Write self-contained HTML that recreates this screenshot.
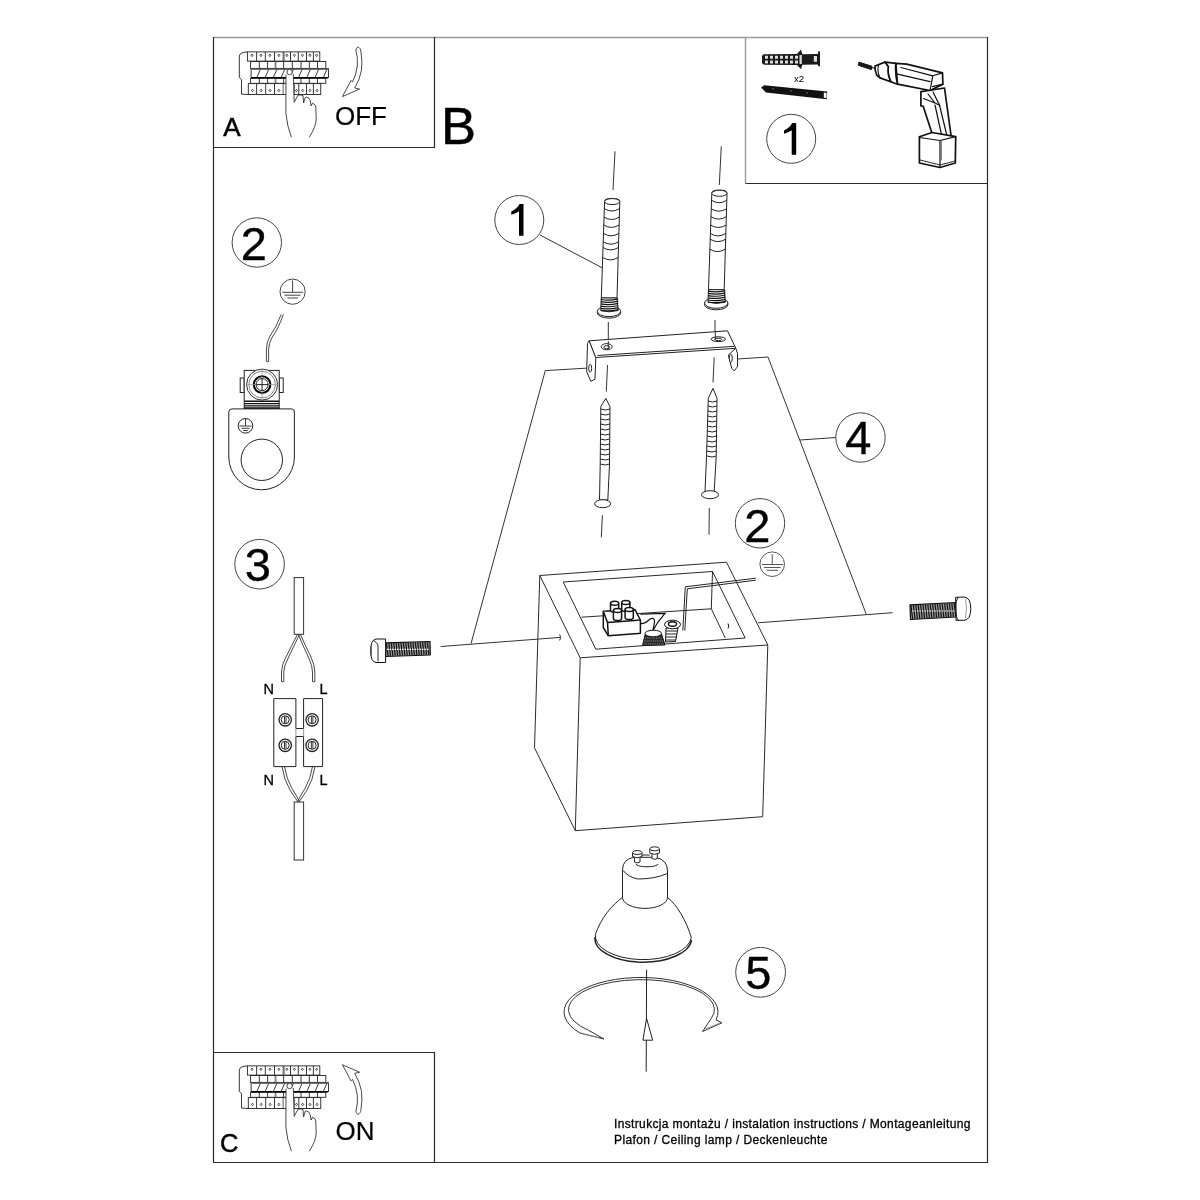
<!DOCTYPE html>
<html><head><meta charset="utf-8">
<style>
html,body{margin:0;padding:0;background:#fff;width:1200px;height:1200px;overflow:hidden}
svg{position:absolute;left:0;top:0;will-change:transform}
text{font-family:"Liberation Sans",sans-serif;fill:#000}
</style></head><body>
<svg width="1200" height="1200" viewBox="0 0 1200 1200">
<g fill="none" stroke="#2a2a2a" stroke-width="1.2">
<path d="M213.5 37.5 H987.5" stroke="#9a9a9a" stroke-width="1.4"/>
<path d="M745.5 37.5 V183.5" stroke="#9a9a9a" stroke-width="1.4"/>
<path d="M213.5 37 V1162.5 H987.5 V37"/>
<path d="M434.5 37 V147.5 H213.5"/>
<path d="M745.5 183.5 H987.5"/>
<path d="M213.5 1052.5 H434.5 V1162.5"/>
</g>
<g>
<text x="223.3" y="135.8" font-size="26" stroke="#000" stroke-width="0.5">A</text>
<text x="335" y="124.8" font-size="26" stroke="#000" stroke-width="0.2">OFF</text>
<text x="441" y="143.7" font-size="52.5" stroke="#000" stroke-width="0.5">B</text>
<text x="220" y="1151.7" font-size="25.5" stroke="#000" stroke-width="0.5">C</text>
<text x="335.5" y="1139.7" font-size="26" stroke="#000" stroke-width="0.2">ON</text>
<text x="614" y="1128" font-size="12" textLength="356.5" lengthAdjust="spacing" stroke="#000" stroke-width="0.3">Instrukcja montażu / instalation instructions / Montageanleitung</text>
<text x="614" y="1143.5" font-size="12" textLength="213.5" lengthAdjust="spacing" stroke="#000" stroke-width="0.3">Plafon / Ceiling lamp / Deckenleuchte</text>
</g>
<!-- ===== circles with numbers ===== -->
<g fill="none" stroke="#444" stroke-width="1">
<circle cx="791.2" cy="138.8" r="24.5"/>
<circle cx="519.3" cy="220" r="24.5"/>
<circle cx="256.8" cy="242.5" r="24.7"/>
<circle cx="860.5" cy="437.5" r="24.7"/>
<circle cx="760" cy="523.3" r="24.7"/>
<circle cx="259.6" cy="564.2" r="24.8"/>
<circle cx="760.6" cy="972.3" r="24.9"/>
</g>
<g font-size="47" text-anchor="middle" stroke="#000" stroke-width="0.35">
<text x="253.8" y="259.5">2</text>
<text x="858.3" y="454.3">4</text>
<text x="757.3" y="541.8">2</text>
<text x="257.8" y="580.8">3</text>
<text x="758.2" y="989">5</text>
</g>
<path d="M519 235.8 V211.2 Q516 213.6 511.3 214.8 V211.4 Q517 209 519.6 204 H523.5 V235.8 Z" fill="#000"/>
<path transform="translate(272.7 -81)" d="M519 235.8 V211.2 Q516 213.6 511.3 214.8 V211.4 Q517 209 519.6 204 H523.5 V235.8 Z" fill="#000"/>
<!-- ===== leader/construction lines ===== -->
<g fill="none" stroke="#333" stroke-width="1">
<path d="M540 235 L602.5 268"/>
<path d="M800 440 L835.8 437.5"/>
<path d="M589 368 L545.3 370.6 L471 643.7"/>
<path d="M737.5 359 L768 357 L866.3 614.4"/>
<path d="M440.75 646.5 L560.4 637.4"/>
<path d="M758 622.8 L892.6 612.7"/>
<path d="M559.7 634.5 Q561.5 637.5 559.7 640.5"/>
<!-- dashed axis lines -->
<path d="M615 151.3 L613 190"/>
<path d="M721.3 146.3 L719.3 185"/>
<path d="M608.3 322 L608.3 350 M607.5 365 L606.3 391.7"/>
<path d="M715 320 L715 336.7 M714.2 357.5 L713 382.5"/>
<path d="M602.4 515.3 L601.3 537.3"/>
<path d="M709.3 508 L709 534.7"/>

</g>

<!-- ===== bracket ===== -->
<g fill="#fff" stroke="#222" stroke-width="1" stroke-linejoin="round">
<path d="M589.2 340.8 L587.5 343.3 L586.7 371.7 L590.8 381.3 L595 379.2 L595.8 357.5 Z"/>
<path d="M735.8 348.3 L737.5 353.3 L737.5 366.7 L734.2 370.8 L731.7 368.3 L728.3 355 Z"/>
<path d="M589.2 340.8 L727.5 330.8 L735.8 348.3 L595.8 357.5 Z"/>
<path d="M597.5 355.5 L734.5 346.3" fill="none"/>
<ellipse cx="606.7" cy="346.7" rx="5.5" ry="3.1"/>
<ellipse cx="606.7" cy="347.2" rx="2.8" ry="1.6"/>
<ellipse cx="718.3" cy="339.2" rx="7.2" ry="2.4"/>
<ellipse cx="718.3" cy="339.4" rx="3.5" ry="1.2"/>
<ellipse cx="590.2" cy="368.3" rx="1.5" ry="4"/>
<ellipse cx="730.8" cy="358.3" rx="1.5" ry="4"/>
</g>
<path d="M608.3 341 V349.5 M715.3 332 V340" stroke="#333" stroke-width="1"/>
<!-- ===== dowels ===== -->
<g id="dowelg" fill="#fff" stroke="#222" stroke-width="1" stroke-linejoin="round">
<path d="M604.6 201.5 Q604.3 198.4 612.2 198.4 Q620 198.4 619.8 201.5 L617 298 L601.3 298 Z"/>
<ellipse cx="612.2" cy="201.6" rx="7.6" ry="3"/>
<path d="M604.27 208.60 Q611.89 213.40 619.52 208.60 M603.98 217.10 Q611.62 221.90 619.27 217.10 M603.71 225.00 Q611.38 229.80 619.04 225.00 M603.42 233.40 Q611.11 238.20 618.80 233.40 M603.14 241.80 Q610.85 246.60 618.56 241.80 M602.94 247.50 Q610.67 252.30 618.39 247.50 M602.60 257.5 Q610.35 262.3 618.10 257.5" fill="none"/>
<path d="M597.3 311.5 V312.8 A11.7 5.3 0 0 0 620.7 312.8 V311.5" />
<ellipse cx="609" cy="311.3" rx="11.7" ry="5.3"/>
<path d="M601.3 298 L600.8 310.5 Q609 313 618.2 310.5 L617 298 Z" />
<path d="M600.80 299.50 Q609 301.10 618.20 298.90 M600.80 301.70 Q609 303.30 618.20 301.10 M600.80 303.90 Q609 305.50 618.20 303.30 M600.80 306.10 Q609 307.70 618.20 305.50 M600.80 308.30 Q609 309.90 618.20 307.70 M600.80 310.30 Q609 311.90 618.20 309.70" fill="none" stroke="#111" stroke-width="1.2"/>
</g>
<use href="#dowelg" transform="translate(107.2 -8.3)"/>
<!-- ===== wood screws ===== -->
<g fill="#fff" stroke="#222" stroke-width="1" stroke-linejoin="round">
<path d="M605.8 398.3 L610 406.7 L609.5 465 L607.8 500 L599.5 500 L600.2 465 L600.8 406.7 Z"/>
<path d="M600.8 409 Q605.5 411 610 409 M600.7 414 Q605.5 416 610 414 M600.6 419 Q605.5 421 609.9 419 M600.6 424 Q605.5 426 609.9 424 M600.5 429 Q605.5 431 609.8 429 M600.4 434 Q605.5 436 609.8 434 M600.4 439 Q605.5 441 609.7 439 M600.3 444 Q605.5 446 609.7 444 M600.3 449 Q605.5 451 609.6 449 M600.2 454 Q605.5 456 609.6 454 M600.2 459 Q605.5 461 609.5 459 M600.2 464 Q605.5 466 609.5 464" fill="none"/>
<ellipse cx="602.7" cy="503.7" rx="8" ry="4"/>
</g>
<g fill="#fff" stroke="#222" stroke-width="1" stroke-linejoin="round">
<path d="M713 388.3 L717 398.3 L716.2 456.7 L714.2 491.7 L705 491.7 L706.5 456.7 L708.3 398.3 Z"/>
<path d="M708 401 Q712.5 403 717 401 M707.9 406 Q712.5 408 716.9 406 M707.8 411 Q712.5 413 716.8 411 M707.7 416 Q712.5 418 716.7 416 M707.6 421 Q712.5 423 716.6 421 M707.5 426 Q712.5 428 716.5 426 M707.3 431 Q712.5 433 716.4 431 M707.2 436 Q712.5 438 716.3 436 M707.1 441 Q712.5 443 716.3 441 M707 446 Q712.5 448 716.3 446 M706.9 451 Q712.5 453 716.2 451 M706.8 456 Q712.5 458 716.2 456" fill="none"/>
<ellipse cx="710" cy="494.7" rx="8.5" ry="4"/>
</g>
<!-- ===== side machine screws ===== -->
<g stroke="#111" stroke-width="1" stroke-linejoin="round">
<path d="M385.6 642.8 L430 641.5 L430.3 655 L385.6 656.5 Z" fill="#999" stroke-width="1.2"/>
<path d="M386.5 643.3 L388.1 656.0 M388.9 643.2 L390.5 655.9 M391.3 643.2 L392.9 655.8 M393.7 643.1 L395.3 655.7 M396.1 643.0 L397.7 655.7 M398.5 642.9 L400.1 655.6 M400.9 642.9 L402.5 655.5 M403.3 642.8 L404.9 655.4 M405.7 642.7 L407.3 655.3 M408.1 642.6 L409.7 655.2 M410.5 642.6 L412.1 655.2 M412.9 642.5 L414.5 655.1 M415.3 642.4 L416.9 655.0 M417.7 642.3 L419.3 654.9 M420.1 642.3 L421.7 654.8 M422.5 642.2 L424.1 654.7 M424.9 642.1 L426.5 654.6 M427.3 642.1 L428.9 654.6" stroke="#111" stroke-width="1.2"/>
<path d="M387 649.3 H429" stroke="#fff" stroke-width="1.2" stroke-dasharray="1.5 1"/>
<path d="M385.6 639 L376 639 Q370.6 640 370.6 650.7 Q370.6 662 376 662.5 L385.6 662.5 Z" fill="#fff"/>
<path d="M373.5 640.5 Q376.5 642 378 645 V661.5" fill="none" stroke-width="0.9"/>
<path d="M371.5 645 V656" fill="none" stroke="#666" stroke-width="0.9"/>
</g>
<g stroke="#111" stroke-width="1" stroke-linejoin="round">
<path d="M910 604.8 L956 602.5 L956 617 L910.5 619.5 Z" fill="#999" stroke-width="1.2"/>
<path d="M911.0 605.3 L912.6 619.0 M913.4 605.2 L915.0 618.9 M915.8 605.0 L917.4 618.7 M918.2 604.9 L919.8 618.6 M920.6 604.8 L922.2 618.5 M923.0 604.7 L924.6 618.3 M925.4 604.5 L927.0 618.2 M927.8 604.4 L929.4 618.0 M930.2 604.3 L931.8 617.9 M932.6 604.2 L934.2 617.8 M935.0 604.0 L936.6 617.6 M937.4 603.9 L939.0 617.5 M939.8 603.8 L941.4 617.4 M942.2 603.7 L943.8 617.2 M944.6 603.5 L946.2 617.1 M947.0 603.4 L948.6 617.0 M949.4 603.3 L951.0 616.8 M951.8 603.2 L953.4 616.7 M954.2 603.0 L955.8 616.5" stroke="#111" stroke-width="1.2"/>
<path d="M912 611 H955" stroke="#fff" stroke-width="1.2" stroke-dasharray="1.5 1"/>
<path d="M955.6 597.3 L964 597 Q970.8 597.5 970.8 608.5 Q970.8 620 964 620.3 L956 620.3 Z" fill="#fff"/>
<path d="M958.5 597.5 Q955.5 600 955.8 608.5 Q955.8 618 958.5 620.3" fill="none"/>
<path d="M965.5 599 Q967.5 608 965.5 618" fill="none" stroke="#999"/>
</g>

<!-- ===== lamp box ===== -->
<g fill="none" stroke="#2a2a2a" stroke-width="1" stroke-linejoin="round">
<path d="M539.8 575.5 L726.5 562.2 L767.8 645 L580.2 657.8 Z"/>
<path d="M563.2 582 L712.5 571.5 L745.2 638 L595.8 649.2 Z"/>
<path d="M581.5 617.2 L711.3 608.8 L712.5 571.5 M711.3 608.8 L725.3 638"/>
<path d="M539.8 575.5 L534.5 747.8 L575.3 830.7 L762.7 816.7 L767.8 645 M580.2 657.8 L575.3 830.7"/>
</g>
<!-- earth symbol near box -->
<g fill="none" stroke="#555" stroke-width="1">
<circle cx="772.2" cy="564.2" r="12.3"/>
<path d="M772.2 554.2 V564.2 M761.7 564.5 H783.3 M764 567.5 H780.5 M766.7 570.3 H778"/>
</g>
<!-- wire from box to outside -->
<g fill="none" stroke="#222" stroke-width="1">
<path d="M755.7 578.2 L685.3 586.8 L682.8 630.5"/>
<path d="M755.9 580.2 L687.3 588.8 L684.8 630.5"/>
</g>
<!-- terminal block inside -->
<g fill="#fff" stroke="#111" stroke-width="1.5" stroke-linejoin="round">
<path d="M603.3 611.3 L635 609.6 L640.4 620 L640.4 633.3 L608.3 635.8 L603.3 627.5 Z"/>
<path d="M603.3 611.3 L607.5 622.5 L640.4 620 M607.5 622.5 L608.3 635.8"/>
<path d="M610.5 603.3 v7 a4.1 2 0 0 0 8.2 0 v-7"/><ellipse cx="614.6" cy="603.3" rx="4.1" ry="2"/>
<path d="M621.7 602.5 v7 a4.1 2 0 0 0 8.2 0 v-7"/><ellipse cx="625.8" cy="602.5" rx="4.1" ry="2"/>
<path d="M613.4 610.4 v8 a4.1 2 0 0 0 8.2 0 v-8"/><ellipse cx="617.5" cy="610.4" rx="4.1" ry="2"/>
<path d="M625.1 609.6 v8 a4.1 2 0 0 0 8.2 0 v-8"/><ellipse cx="629.2" cy="609.6" rx="4.1" ry="2"/>
</g>
<g fill="none" stroke="#111" stroke-width="1.2">
<path d="M640.4 623.7 Q645 624 650 619 Q655 617 654.5 622 L652 636"/>
<path d="M640.4 614.2 L665 613.3 L658 622 L652 632"/>
</g>
<g stroke="#111" stroke-width="1">
<path d="M645.3 634 L642.5 645.5 L665 645 L661.5 634 Z" fill="#2a2a2a"/>
<path d="M645 638 H662 M644.2 641 H663 M643.5 644 H664" stroke="#bbb" stroke-width="0.7" stroke-dasharray="1.2 1"/>
<ellipse cx="653.3" cy="633.5" rx="8.3" ry="3.3" fill="#fff"/>
<path d="M666 628 L665.5 642 L675.5 641.5 L678 628 Z" fill="#fff"/>
<path d="M666 631 H677.5 M665.8 634 H677 M665.7 637 H676.5 M665.6 640 H676" stroke="#222" stroke-width="1.1"/>
<ellipse cx="672.5" cy="624.5" rx="8" ry="4.3" fill="#fff"/>
<ellipse cx="672.5" cy="624" rx="4" ry="2.2" fill="#fff" stroke-width="1.4"/>
<path d="M728 623.5 Q729.5 626 728 628.5" fill="none"/>
</g>

<!-- ===== GU10 bulb ===== -->
<g fill="#fff" stroke="#222" stroke-width="1" stroke-linejoin="round">
<path d="M622.5 897.4 C612 905 601 918 595.4 934.3 A48 23.7 0 0 0 691.3 937.5 C686 920 677 905 667.5 897.4 Z"/>
<path d="M595 937 A48.3 23.7 0 0 0 691.5 940" fill="none" stroke-width="1.5"/>
<path d="M622.5 897.4 A22.5 11 0 0 0 667.5 897.4 V871 Q667.5 860 656 857.3 L634 857.3 Q623 859 622.5 869.3 Z"/>
<path d="M623 870.3 Q628 877 637.7 879 Q655 879 667 873.6" fill="none"/>
<path d="M636 864 A11 2.8 0 0 0 658 864" fill="none"/>
<path d="M634.5 857.5 V862 Q637.2 863.8 640 862 V857.5"/>
<path d="M632.5 852.5 V856.5 Q637.2 859.2 642 856.5 V852.5"/>
<ellipse cx="637.2" cy="852.5" rx="4.7" ry="2"/>
<path d="M652 854 V858.5 Q654.6 860.3 657.3 858.5 V854"/>
<path d="M649.8 848.8 V853 Q654.6 855.7 659.4 853 V848.8"/>
<ellipse cx="654.6" cy="848.8" rx="4.8" ry="2"/>
<path d="M642 855 L649.8 855" fill="none"/>
</g>
<!-- ===== rotation arrows ===== -->
<path d="M580 1033 A77 34.5 0 1 1 716 1019.8 L722 1022.8 L702.5 1031.5 L711.2 1018.5 A73 30 0 1 0 588.75 1030.4 L603.9 1039 Z" fill="#fff" stroke="#333" stroke-width="1" stroke-linejoin="round"/>
<path d="M583 1034 L600 1038 M705 1029 L720 1023" stroke="#888" stroke-width="0.8" fill="none"/>
<path d="M646.6 969.8 L646.2 1071.6" stroke="#222" stroke-width="1"/>
<path d="M646.6 1018.5 L652.7 1040.2 L642.9 1040.2 Z" fill="#fff" stroke="#222" stroke-width="1"/>

<!-- ===== earth terminal (2) ===== -->
<g fill="none" stroke="#444" stroke-width="1">
<circle cx="292.6" cy="291.7" r="12.6"/>
<path d="M292.6 280.5 V292 M282.3 292.3 H303 M284.5 295.2 H300.5 M287.5 298 H298" />
</g>
<g fill="none" stroke="#333" stroke-width="0.9">
<path d="M281.2 314.4 Q276 328 270 336 Q266.3 342 266.4 350 V361.6"/>
<path d="M283.4 314.4 Q278.2 329 272.3 337 Q268.6 343 268.6 350 V361.6"/>
<path d="M266.4 361.6 H268.6"/>
</g>
<g fill="#fff" stroke="#222" stroke-width="1">
<rect x="240.2" y="378" width="4" height="14.5"/>
<rect x="279.2" y="378" width="4" height="14.5"/>
<rect x="244.2" y="370.4" width="35" height="38.5"/>
<circle cx="262.1" cy="384.6" r="15.5" stroke="#333"/><circle cx="262.1" cy="384.6" r="13.3" stroke="#888" fill="none"/>
<circle cx="262.1" cy="384.6" r="8.3" stroke="#000" stroke-width="2"/>
<path d="M262.1 369.5 V400 M247 384.6 H277.5" stroke="#999" stroke-width="0.8"/>
<circle cx="262.1" cy="384.6" r="6" fill="#fff" stroke="#222"/>
<path d="M262.1 378.6 V390.6 M256.1 384.6 H268.1"/>
<path d="M244.2 401.3 H279.2 M244.2 403.6 H279.2 M244.2 405.9 H279.2 M244.2 408 H279.2" stroke="#111" stroke-width="1.4"/>
<path d="M232 408.9 H291.7 Q294.4 408.9 294.4 412 V457 A32.8 32.8 0 0 1 228.8 457 V412 Q228.8 408.9 232 408.9 Z"/>
<circle cx="261.8" cy="459.8" r="20.7"/>
<circle cx="245.5" cy="425.8" r="7.3"/>
<path d="M245.5 418.5 V425.8 M239.5 426 H251.5 M241.5 428.3 H249.5 M243.2 430.5 H247.8" stroke-width="0.9"/>
</g>
<!-- ===== connector (3) ===== -->
<g fill="#fff" stroke="#333" stroke-width="1">
<rect x="294.2" y="577.6" width="9.4" height="56.7"/>
<rect x="294.2" y="802" width="9.4" height="58"/>
</g>
<g fill="none" stroke="#333" stroke-width="0.9">
<path d="M297.5 634.3 Q292 645 286 657 Q281.5 665 281.5 672 V681.6"/>
<path d="M299.5 634.3 Q294 646 288.2 658 Q283.8 666 283.8 672 V681.6"/>
<path d="M300.3 634.3 Q305 645 311 657 Q314.8 665 314.8 672 V681.6"/>
<path d="M298.3 634.3 Q303 646 308.8 658 Q312.5 666 312.5 672 V681.6"/>
<path d="M281.5 681.6 H283.8 M312.5 681.6 H314.8"/>
<path d="M282 766.6 Q284 780 290 790 Q296 799 298 802"/>
<path d="M284.5 766.6 Q286.5 779 292 788.5 Q297.5 797 299.5 802"/>
<path d="M315 766.6 Q313 780 307 790 Q301 799 299 802"/>
<path d="M312.5 766.6 Q310.5 779 305 788.5 Q299.5 797 297.5 802"/>
</g>
<g fill="#fff" stroke="#222" stroke-width="1">
<path d="M273.8 698.6 H295.9 V728.5 H303.6 V698.6 H322.6 V766.6 H303.6 V736.5 H295.9 V766.6 H273.8 Z"/>
<path d="M295.9 728.5 V736.5 M303.6 728.5 V736.5" stroke="#999"/>
<circle cx="285.2" cy="719.8" r="6.2" stroke-width="1.3"/><circle cx="285.2" cy="719.8" r="4"/>
<circle cx="312.1" cy="719.8" r="6.2" stroke-width="1.3"/><circle cx="312.1" cy="719.8" r="4"/>
<circle cx="285.2" cy="745.3" r="6.2" stroke-width="1.3"/><circle cx="285.2" cy="745.3" r="4"/>
<circle cx="312.1" cy="745.3" r="6.2" stroke-width="1.3"/><circle cx="312.1" cy="745.3" r="4"/>
<path d="M284.5 716.3 V723.3 M286 716.3 V723.3 M311.4 716.3 V723.3 M312.9 716.3 V723.3 M284.5 741.8 V748.8 M286 741.8 V748.8 M311.4 741.8 V748.8 M312.9 741.8 V748.8" stroke-width="0.9"/>
</g>
<g font-size="14.5" text-anchor="middle" stroke="#000" stroke-width="0.3">
<text x="268.8" y="694.3">N</text>
<text x="323.6" y="694.3">L</text>
<text x="268.8" y="785">N</text>
<text x="323.6" y="785">L</text>
</g>

<!-- OFF / ON arrows -->
<g id="offarrow" fill="#fff" stroke="#333" stroke-width="0.9" stroke-linejoin="round">
<path d="M357.75 47.1 Q360.5 47.5 361 52 Q362.5 62 361.5 70 Q360 79 354.75 88 L359.6 89.1 L342.4 96.6 L351 80.5 L352.5 82 Q356.5 74 357.3 66 Q358 57 356 51 Q355.5 48 357.75 47.1 Z"/>
</g>
<g transform="translate(0 1161.35) scale(1 -1)" fill="#fff" stroke="#333" stroke-width="0.9" stroke-linejoin="round">
<path d="M357.75 47.1 Q360.5 47.5 361 52 Q362.5 62 361.5 70 Q360 79 354.75 88 L359.6 89.1 L342.4 96.6 L351 80.5 L352.5 82 Q356.5 74 357.3 66 Q358 57 356 51 Q355.5 48 357.75 47.1 Z"/>
</g>
<!-- box 1 : dowel + screw -->
<g>
<path d="M762 56.5 Q762 54.3 764.5 54.2 L797 54 L801 49.4 L802.3 54.3 L817.8 54 L818.4 51.2 L820 51.2 L820 66.3 L818.4 66.3 L817.8 64.6 L802.3 64.8 L801 69.3 L797 65 L764.5 64.8 Q762 64.6 762 62.5 Z" fill="#1a1a1a"/>
<path d="M765 55.8 h3 v3 h-3z M770 55.8 h3 v3 h-3z M775 55.8 h3 v3 h-3z M780 55.8 h3 v3 h-3z M785 55.8 h3 v3 h-3z M790 55.8 h3 v3 h-3z M795 55.8 h3 v3 h-3z M765 60.5 h3 v3 h-3z M770 60.5 h3 v3 h-3z M775 60.5 h3 v3 h-3z M780 60.5 h3 v3 h-3z M785 60.5 h3 v3 h-3z M790 60.5 h3 v3 h-3z M795 60.5 h3 v3 h-3z M799.5 55 h2.3 v9 h-2.3z M813.8 56 h3.2 v5.8 h-3.2z" fill="#fff" opacity="0.85"/>
<text x="794" y="82" font-size="9.5">x2</text>
<path d="M761.1 87.4 L764.2 85.2 L827.2 91.4 L826.7 99.2 L766 92.6 Z" fill="#111"/>
<path d="M772 88.5 l2 0.5 M790 90.8 l2 0.3 M806 92.8 l2 0.3" stroke="#888" stroke-width="0.7"/>
<path d="M823.8 92.6 L826.6 92.9 L826.4 98 L823.8 97.7 Z" fill="#fff" stroke="none"/>
</g>
<!-- drill -->
<g fill="#fff" stroke="#111" stroke-width="1.7" stroke-linejoin="round" stroke-linecap="round">
<path d="M859.3 62.2 L872 66.3 L871.3 69.6 L858.6 65.4 Z" fill="#1a1a1a" stroke-width="1"/>
<path d="M871.5 67.6 L876 68.3" stroke-width="1"/>
<path d="M920.9 91.7 L920.9 106 L923.1 106 L932.9 136 L951.2 136.5 L944.5 88 Z"/>
<path d="M923.5 98.5 L935 103 L940 105.5 M928 94 L935 103 M933 92 L939.5 105 L947 136 M935 105 L942 137" fill="none" stroke-width="1.2"/>
<path d="M895.8 63.3 L906.7 64.2 L942.5 72.9 L942.9 84.2 L930 90.5 L897.5 84.2 Z"/>
<path d="M900.8 67.5 L932.8 75.8 L942.5 72.9 M897.5 74.2 L930 81.7 M932.8 75.8 L930 90.5 M932.5 86.7 L942.9 84.2" fill="none" stroke-width="1.2"/>
<path d="M885 62.1 L895.8 63.3 Q895 74 897.5 84.2 L890.8 81.7 Q887 74 888.3 66.7 Z"/>
<path d="M875 66 L885 62.1 L888.3 66.7 Q887 74 890.8 81.7 L880 77.9 L876.7 75 Q874.5 70 875 66 Z"/>
<path d="M878.5 64.8 Q876.8 71 880 77.9" fill="none" stroke-width="1.1"/>
<path d="M919.4 136.7 L932 132.5 L955.7 136.7 L955.3 163 L940 167.5 L919.4 163 Z"/>
<path d="M919.4 137.5 L940 140.5 L955.7 136.7 M940 140.5 V167.5" fill="none" stroke-width="1.2"/>
<path d="M941.3 141 V160" stroke="#777" stroke-width="1.2"/>
<path d="M920 160 L940 165 L955 161" fill="none" stroke-width="1" stroke-dasharray="1.5 1"/>
</g>

<g id="panel">
<g fill="#fff" stroke="#222" stroke-width="0.9">
<path d="M247.4 51.9 L243 52.5 Q239.5 53.5 239.3 56 V77.6 L241.5 79.5 V94.1 L248.3 94.5" fill="none"/>
<rect x="247.4" y="51.9" width="72.4" height="9.2"/>
<path d="M256.6 51.9 V61.1 M265.3 51.9 V61.1 M274.5 51.9 V61.1 M283.2 51.9 V61.1 M290.5 51.9 V61.1 M298.3 51.9 V61.1 M306.5 51.9 V61.1 M313.4 51.9 V61.1"/>
<path d="M252.0 54.0 L253.0 55.3 L252.0 56.599999999999994 L251.0 55.3 Z" stroke-width="0.8"/>
<path d="M260.95000000000005 54.0 L261.95000000000005 55.3 L260.95000000000005 56.599999999999994 L259.95000000000005 55.3 Z" stroke-width="0.8"/>
<path d="M269.9 54.0 L270.9 55.3 L269.9 56.599999999999994 L268.9 55.3 Z" stroke-width="0.8"/>
<path d="M278.85 54.0 L279.85 55.3 L278.85 56.599999999999994 L277.85 55.3 Z" stroke-width="0.8"/>
<path d="M286.85 54.0 L287.85 55.3 L286.85 56.599999999999994 L285.85 55.3 Z" stroke-width="0.8"/>
<path d="M294.4 54.0 L295.4 55.3 L294.4 56.599999999999994 L293.4 55.3 Z" stroke-width="0.8"/>
<path d="M302.4 54.0 L303.4 55.3 L302.4 56.599999999999994 L301.4 55.3 Z" stroke-width="0.8"/>
<path d="M309.95 54.0 L310.95 55.3 L309.95 56.599999999999994 L308.95 55.3 Z" stroke-width="0.8"/>
<path d="M316.6 54.0 L317.6 55.3 L316.6 56.599999999999994 L315.6 55.3 Z" stroke-width="0.8"/>
<rect x="250.6" y="61.5" width="75.2" height="6.9"/>
<path d="M259.3 61.5 V68.4 M267.6 61.5 V68.4 M275.8 61.5 V68.4 M283.6 61.5 V68.4 M292.3 61.5 V68.4 M301 61.5 V68.4 M309.3 61.5 V68.4 M317.5 61.5 V68.4"/>
<rect x="251.1" y="68.6" width="77.4" height="9" />
<path d="M251.1 69.3 H328.5" stroke="#777" stroke-width="1.3"/>
<path d="M256.8 77.6 L260.3 69.5 M265.1 77.6 L268.6 69.5 M273.3 77.6 L276.8 69.5 M281.1 77.6 L284.6 69.5 M289.8 77.6 L293.3 69.5 M298.5 77.6 L302 69.5 M306.8 77.6 L310.3 69.5 M315.0 77.6 L318.5 69.5 M323.3 77.6 L326.8 69.5"/>
<path d="M251.1 77.8 H328" stroke="#000" stroke-width="1.6"/>
<rect x="250.6" y="78.5" width="75.2" height="4.8"/>
<path d="M259.3 78.5 V83.3 M267.6 78.5 V83.3 M275.8 78.5 V83.3 M283.6 78.5 V83.3 M292.3 78.5 V83.3 M301 78.5 V83.3 M309.3 78.5 V83.3 M317.5 78.5 V83.3"/>
<rect x="248.3" y="83.6" width="72.45" height="10.9"/>
<path d="M256.6 83.6 V94.5 M265.7 83.6 V94.5 M274.5 83.6 V94.5 M283.2 83.6 V94.5 M294.2 83.6 V94.5 M298.8 83.6 V94.5 M306.5 83.6 V94.5 M313.4 83.6 V94.5"/>
<path d="M252.45000000000002 89.2 L253.45000000000002 90.5 L252.45000000000002 91.8 L251.45000000000002 90.5 Z" stroke-width="0.8"/>
<path d="M261.15 89.2 L262.15 90.5 L261.15 91.8 L260.15 90.5 Z" stroke-width="0.8"/>
<path d="M270.1 89.2 L271.1 90.5 L270.1 91.8 L269.1 90.5 Z" stroke-width="0.8"/>
<path d="M278.85 89.2 L279.85 90.5 L278.85 91.8 L277.85 90.5 Z" stroke-width="0.8"/>
<path d="M288.7 89.2 L289.7 90.5 L288.7 91.8 L287.7 90.5 Z" stroke-width="0.8"/>
<path d="M296.5 89.2 L297.5 90.5 L296.5 91.8 L295.5 90.5 Z" stroke-width="0.8"/>
<path d="M302.65 89.2 L303.65 90.5 L302.65 91.8 L301.65 90.5 Z" stroke-width="0.8"/>
<path d="M309.95 89.2 L310.95 90.5 L309.95 91.8 L308.95 90.5 Z" stroke-width="0.8"/>
<path d="M317.075 89.2 L318.075 90.5 L317.075 91.8 L316.075 90.5 Z" stroke-width="0.8"/>
</g>
<path d="M284.5 52 V61 M275 62 V68 M301.5 62 V68 M275 79 V83 M283.5 84 V94" stroke="#999" stroke-width="1"/>
<g fill="#fff" stroke="#333" stroke-width="0.9" stroke-linejoin="round">
<path d="M286 74.5 L285.9 113.3 Q287 126 291.4 137.2 L309.3 137.2 Q316.5 126 316.2 117.9 L315.7 106 Q314 103.5 312.5 103.2 L311.1 106 Q310.5 99 308.5 97.8 Q306 96.5 305.2 97.5 L303.6 103 L303 95.5 Q300 94.5 297.9 95.3 L294.2 102.3 L293.3 74 Z" stroke="none"/>
<path d="M286 74.5 L285.9 113.3 Q287 126 291.4 137.2 M309.3 137.2 Q316.5 126 316.2 117.9 L315.7 106 Q314 103.5 312.5 103.2 L311.1 106 Q310.5 99 308.5 97.8 Q306 96.5 305.2 97.5 L303.6 103 L303 95.5 Q300 94.5 297.9 95.3 L294.2 102.3 L293.3 74" fill="none"/>
<circle cx="289.6" cy="72" r="2.7"/>
</g>
</g>
<use href="#panel" transform="translate(0 1014)"/>
</svg>
</body></html>
